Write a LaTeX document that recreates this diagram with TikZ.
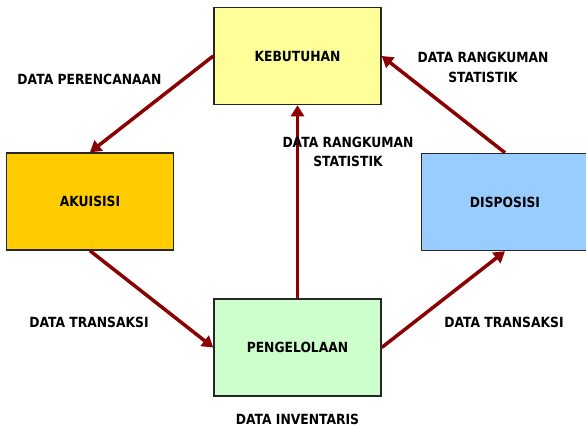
\documentclass[tikz,border=0pt]{standalone}
\usepackage{fontspec}
\setmainfont{DejaVu Sans}[FakeStretch=0.88]
\usetikzlibrary{arrows.meta}
\definecolor{kyellow}{HTML}{FFFF99}
\definecolor{kgold}{HTML}{FFCC00}
\definecolor{kblue}{HTML}{99CCFF}
\definecolor{kgreen}{HTML}{CCFFCC}
\definecolor{karrow}{HTML}{8B0000}
\begin{document}
\begin{tikzpicture}[x=1pt,y=-1pt,
  box/.style={draw=black!85, line width=1.5pt, minimum width=167pt, minimum height=97pt,
    inner sep=0pt, font=\fontsize{14pt}{19pt}\selectfont\bfseries},
  lab/.style={align=center, inner sep=0pt, font=\fontsize{14pt}{19.5pt}\selectfont\bfseries},
  arr/.style={draw=karrow, line width=3.5pt, -{Triangle[length=11pt,width=13pt]}}]
\useasboundingbox (0,0) rectangle (586,428);
\node[box, fill=kyellow] (keb) at (297.5,56) {KEBUTUHAN};
\node[box, fill=kgold] (aku) at (90,201.5) {AKUISISI};
\node[box, fill=kblue] (dis) at (505,202) {DISPOSISI};
\node[box, fill=kgreen] (pen) at (297.5,347.5) {PENGELOLAAN};
\draw[arr] (keb.west) -- (aku.north);
\draw[arr] (aku.south) -- (pen.west);
\draw[arr] (pen.east) -- (dis.south);
\draw[arr] (dis.north) -- (keb.east);
\draw[arr] (pen.north) -- (keb.south);
\node[lab] (l1) at (89.5,79) {DATA PERENCANAAN};
\node[lab] (l2) at (483,67.5) {DATA RANGKUMAN\\STATISTIK};
\node[lab] (l3) at (348,152) {DATA RANGKUMAN\\STATISTIK};
\node[lab] (l4) at (89,322.5) {DATA TRANSAKSI};
\node[lab] (l5) at (504,322.5) {DATA TRANSAKSI};
\node[lab] (l6) at (297.5,419) {DATA INVENTARIS};
\end{tikzpicture}
\end{document}
